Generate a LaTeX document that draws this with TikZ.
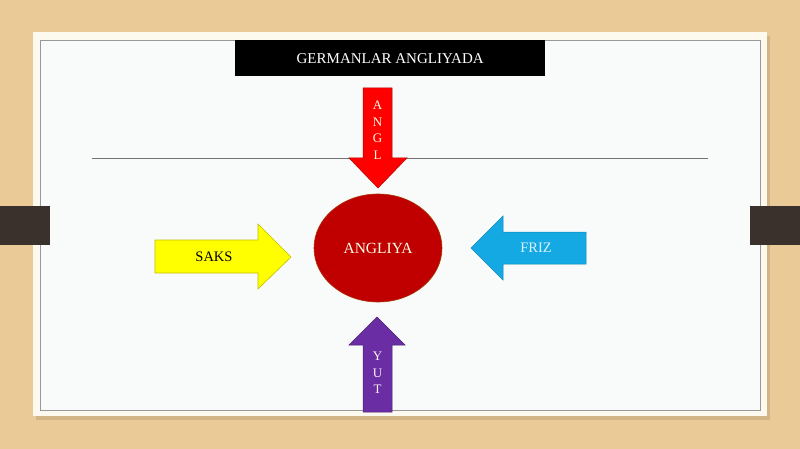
\documentclass[tikz,border=0pt]{standalone}
\usepackage{fontspec}
\setmainfont{Liberation Serif}
\usetikzlibrary{shapes.geometric}
\begin{document}
\begin{tikzpicture}[x=1pt,y=-1pt,
  lbl/.style={font=\fontsize{14.5}{15}\selectfont, inner sep=0pt},
  vlbl/.style={font=\fontsize{13}{14.5}\selectfont, align=center, inner sep=0pt}]
\definecolor{wood}{HTML}{EACA97}
\definecolor{cream}{HTML}{FCF9EE}
\definecolor{panel}{HTML}{F9FAFA}
\definecolor{tab}{HTML}{3A302C}
\definecolor{angred}{HTML}{FF0000}
\definecolor{ovalred}{HTML}{C00000}
\definecolor{saksy}{HTML}{FFFF00}
\definecolor{frizb}{HTML}{14A9E3}
\definecolor{yutp}{HTML}{6A2DA3}
\useasboundingbox (0,0) rectangle (800,449);
% background
\fill[wood] (0,0) rectangle (800,449);
\fill[wood!80!black, opacity=0.5] (36,36) rectangle (770,420);
\fill[cream] (33,32) rectangle (767,416);
\fill[panel] (40,40) rectangle (760,410);
\draw[gray!80, line width=0.8pt] (40,40) rectangle (760,410);
% side tabs
\fill[tab] (0,206) rectangle (50,245);
\fill[tab] (750,206) rectangle (800,245);
% title
\node[fill=black, minimum width=310pt, minimum height=36pt, inner sep=0pt, anchor=north west] (title) at (235,40) {};
\node[text=white, font=\fontsize{15}{16}\selectfont] (titletext) at (title.center) {GERMANLAR ANGLIYADA};
% line
\coordinate (la) at (92,158);
\coordinate (lb) at (708,158);
\draw[gray!90!black, line width=0.7pt] (la) -- (lb);
% oval
\node[ellipse, draw=ovalred!60!olive, fill=ovalred, line width=0.6pt, minimum width=128pt, minimum height=108pt, inner sep=0pt] (angliya) at (378,248) {};
\node[text=white!90!yellow, lbl, font=\fontsize{15.5}{16}\selectfont] at (angliya.center) {ANGLIYA};
% red arrow down (ANGL)
\filldraw[fill=angred, draw=angred!70!black, line width=0.5pt]
  (363,88) -- (392,88) -- (392,158) -- (407,158) -- (378,188) -- (349,158) -- (363,158) -- cycle;
\node[text=white!90!yellow, vlbl] (angl) at (377.5,130) {A\\[2pt]N\\[2pt]G\\[2pt]L};
% yellow arrow right (SAKS)
\filldraw[fill=saksy, draw=saksy!50!olive, line width=0.6pt]
  (155,240) -- (258,240) -- (258,224) -- (291,257) -- (258,289) -- (258,273) -- (155,273) -- cycle;
\node[text=black, lbl] (saks) at (214,257) {SAKS};
% blue arrow left (FRIZ)
\filldraw[fill=frizb, draw=frizb!80!black, line width=0.5pt]
  (586,232) -- (503,232) -- (503,216) -- (471,248) -- (503,280) -- (503,264) -- (586,264) -- cycle;
\node[text=white!85!cyan, lbl] (friz) at (536,248) {FRIZ};
% purple arrow up (YUT)
\filldraw[fill=yutp, draw=yutp!70!black, line width=0.5pt]
  (363,412) -- (363,345) -- (349,345) -- (377,317) -- (405,345) -- (392,345) -- (392,412) -- cycle;
\node[text=white!85!pink, vlbl] (yut) at (377.5,373) {Y\\[2pt]U\\[2pt]T};
\end{tikzpicture}
\end{document}
